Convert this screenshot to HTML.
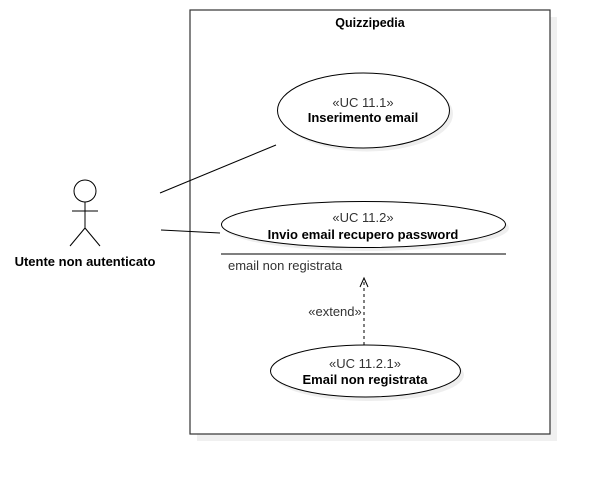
<!DOCTYPE html>
<html><head><style>body{margin:0;background:#fff}</style></head><body>
<svg width="590" height="474" xmlns="http://www.w3.org/2000/svg" font-family="Liberation Sans, sans-serif">
<rect x="197" y="17" width="360" height="424" fill="#f0f0f0"/>
<rect x="190" y="10" width="360" height="424" fill="#fff" stroke="#333" stroke-width="1.2"/>
<text x="370" y="27" text-anchor="middle" font-size="12.5" font-weight="bold">Quizzipedia</text>
<ellipse cx="367" cy="114" rx="86" ry="37.5" fill="#eee"/>
<ellipse cx="363.5" cy="110.5" rx="86" ry="37.5" fill="#fff" stroke="#000"/>
<text x="363" y="107" text-anchor="middle" font-size="13" fill="#333">«UC 11.1»</text>
<text x="363" y="122" text-anchor="middle" font-size="13" font-weight="bold">Inserimento email</text>
<ellipse cx="367" cy="228" rx="142" ry="23" fill="#eee"/>
<ellipse cx="363.5" cy="224.5" rx="142" ry="23" fill="#fff" stroke="#000"/>
<text x="363" y="222" text-anchor="middle" font-size="13" fill="#333">«UC 11.2»</text>
<text x="363" y="239" text-anchor="middle" font-size="13" font-weight="bold">Invio email recupero password</text>
<line x1="221" y1="254" x2="506" y2="254" stroke="#555" stroke-width="1.5"/>
<text x="228" y="270" font-size="13" fill="#333">email non registrata</text>
<line x1="364" y1="345" x2="364" y2="279" stroke="#000" stroke-dasharray="3,3"/>
<polyline points="360,287 364,278 368,287" fill="none" stroke="#000"/>
<text x="335" y="316" text-anchor="middle" font-size="13" fill="#333">«extend»</text>
<ellipse cx="369" cy="375" rx="95" ry="26" fill="#eee"/>
<ellipse cx="365.5" cy="371" rx="95" ry="26" fill="#fff" stroke="#000"/>
<text x="365" y="368" text-anchor="middle" font-size="13" fill="#333">«UC 11.2.1»</text>
<text x="365" y="384" text-anchor="middle" font-size="13" font-weight="bold">Email non registrata</text>
<g stroke="#000" fill="#fff">
<circle cx="85" cy="191" r="11"/>
<line x1="85" y1="202" x2="85" y2="228"/>
<line x1="72" y1="211" x2="98" y2="211"/>
<line x1="85" y1="228" x2="70" y2="246"/>
<line x1="85" y1="228" x2="100" y2="246"/>
<line x1="160" y1="193" x2="276" y2="145"/>
<line x1="161" y1="230" x2="220" y2="233"/>
</g>
<text x="85" y="266" text-anchor="middle" font-size="13" font-weight="bold">Utente non autenticato</text>
</svg>
</body></html>
